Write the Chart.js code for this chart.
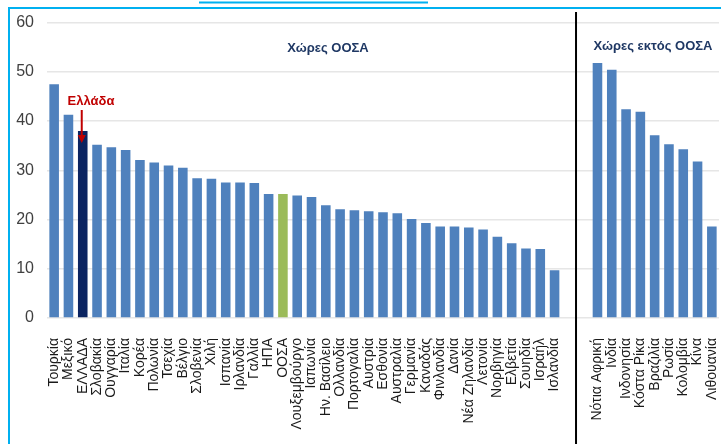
<!DOCTYPE html>
<html>
<head>
<meta charset="utf-8">
<script src="https://cdn.jsdelivr.net/npm/chart.js@4.4.1/dist/chart.umd.min.js"></script>
<style>
    html, body { margin: 0; padding: 0; background: #fff; overflow: hidden; }
    canvas { display: block; }
</style>
</head>
<body>
<canvas id="chart" width="721" height="444"></canvas>
<script>
// OECD countries (sorted), then two empty slots, then non-OECD countries
const oecdCountries = ['Τουρκία', 'Μεξικό', 'ΕΛΛΑΔΑ', 'Σλοβακία', 'Ουγγαρία', 'Ιταλία', 'Κορέα', 'Πολωνία',
    'Τσεχία', 'Βέλγιο', 'Σλοβενία', 'Χιλή', 'Ισπανία', 'Ιρλανδία', 'Γαλλία', 'ΗΠΑ', 'ΟΟΣΑ',
    'Λουξεμβούργο', 'Ιαπωνία', 'Ην. Βασίλειο', 'Ολλανδία', 'Πορτογαλία', 'Αυστρία', 'Εσθονία',
    'Αυστραλία', 'Γερμανία', 'Καναδάς', 'Φινλανδία', 'Δανία', 'Νέα Ζηλανδία', 'Λετονία',
    'Νορβηγία', 'Ελβετία', 'Σουηδία', 'Ισραήλ', 'Ισλανδία'];
const oecdValues = [47.5, 41.3, 38.0, 35.2, 34.7, 34.1, 32.1, 31.6, 31.0, 30.5, 28.4, 28.3,
    27.5, 27.5, 27.4, 25.2, 25.2, 24.9, 24.6, 22.9, 22.1, 21.9, 21.7, 21.5, 21.3, 20.1,
    19.3, 18.6, 18.6, 18.4, 18.0, 16.5, 15.2, 14.1, 14.0, 9.7];

const nonOecdCountries = ['Νότια Αφρική', 'Ινδία', 'Ινδονησία', 'Κόστα Ρίκα', 'Βραζιλία',
    'Ρωσία', 'Κολομβία', 'Κίνα', 'Λιθουανία'];
const nonOecdValues = [51.8, 50.4, 42.4, 41.9, 37.1, 35.3, 34.3, 31.8, 18.6];

const yTicks = [0, 10, 20, 30, 40, 50, 60];

const labels = [...oecdCountries, '', '', ...nonOecdCountries];
const values = [...oecdValues, null, null, ...nonOecdValues];

const barColors = labels.map(l => l === 'ΕΛΛΑΔΑ' ? '#0B2461' : (l === 'ΟΟΣΑ' ? '#9BBB59' : '#4F81BD'));

// page frame (left + top edges of the clipped slide box)
const frame = {
    id: 'frame',
    beforeDraw(chart) {
        const { ctx } = chart;
        ctx.save();
        ctx.fillStyle = '#fff';
        ctx.fillRect(0, 0, chart.width, chart.height);
        ctx.strokeStyle = '#00B0F0';
        ctx.lineWidth = 2;
        ctx.beginPath();
        ctx.moveTo(9, chart.height);
        ctx.lineTo(9, 8);
        ctx.lineTo(chart.width, 8);
        ctx.moveTo(199, 2.5);
        ctx.lineTo(428, 2.5);
        ctx.stroke();
        ctx.restore();
    }
};

// annotations: group titles, Greece arrow, separator line
const overlay = {
    id: 'overlay',
    afterDatasetsDraw(chart) {
        const { ctx, scales: { x, y } } = chart;
        const pitch = x.getPixelForValue(1) - x.getPixelForValue(0);
        ctx.save();

        // separator between the two groups
        const sepX = x.getPixelForValue(oecdCountries.length) + pitch / 2;
        ctx.strokeStyle = '#000';
        ctx.lineWidth = 2;
        ctx.beginPath();
        ctx.moveTo(sepX, 12);
        ctx.lineTo(sepX, 444);
        ctx.stroke();

        // group titles
        ctx.fillStyle = '#1F3864';
        ctx.font = 'bold 13px "Liberation Sans", Arial, sans-serif';
        ctx.textAlign = 'center';
        ctx.textBaseline = 'middle';
        ctx.fillText('Χώρες ΟΟΣΑ', 328, 48);
        ctx.fillText('Χώρες εκτός ΟΟΣΑ', 653, 46);

        // Greece label + arrow
        const gi = labels.indexOf('ΕΛΛΑΔΑ');
        const gx = x.getPixelForValue(gi) - 1;
        ctx.fillStyle = '#C00000';
        ctx.fillText('Ελλάδα', 91, 101);
        ctx.strokeStyle = '#C00000';
        ctx.lineWidth = 2;
        const tipY = y.getPixelForValue(values[gi]) + 12;
        ctx.beginPath();
        ctx.moveTo(gx, 110);
        ctx.lineTo(gx, tipY - 6);
        ctx.stroke();
        ctx.beginPath();
        ctx.moveTo(gx - 4, tipY - 8);
        ctx.lineTo(gx + 4, tipY - 8);
        ctx.lineTo(gx, tipY);
        ctx.closePath();
        ctx.fill();

        ctx.restore();
    }
};

new Chart(document.getElementById('chart'), {
    type: 'bar',
    data: {
        labels: labels,
        datasets: [{
            data: values,
            backgroundColor: barColors,
            borderWidth: 0,
            categoryPercentage: 1,
            barPercentage: 0.67
        }]
    },
    options: {
        responsive: false,
        animation: false,
        layout: { padding: { top: 22, right: 2, left: 0, bottom: 0 } },
        plugins: { legend: { display: false }, tooltip: { enabled: false } },
        scales: {
            x: {
                grid: { display: false },
                border: { display: false },
                afterFit(scale) {
                    scale.height = 126;
                    scale.paddingLeft = 0;
                    scale.paddingRight = 0;
                },
                ticks: {
                    autoSkip: false,
                    minRotation: 90,
                    maxRotation: 90,
                    padding: 12,
                    color: '#1a1a1a',
                    font: { family: '"Liberation Sans", Arial, sans-serif', size: 14 }
                }
            },
            y: {
                min: 0,
                max: 60,
                afterFit(scale) { scale.width = 47; },
                afterBuildTicks(scale) { scale.ticks = yTicks.map(v => ({ value: v })); },
                grid: { color: '#E6E6E6', lineWidth: 1.5, drawTicks: false },
                border: { display: false },
                ticks: {
                    padding: 13,
                    color: '#404040',
                    font: { family: '"Liberation Sans", Arial, sans-serif', size: 16 }
                }
            }
        }
    },
    plugins: [frame, overlay]
});
</script>
</body>
</html>
